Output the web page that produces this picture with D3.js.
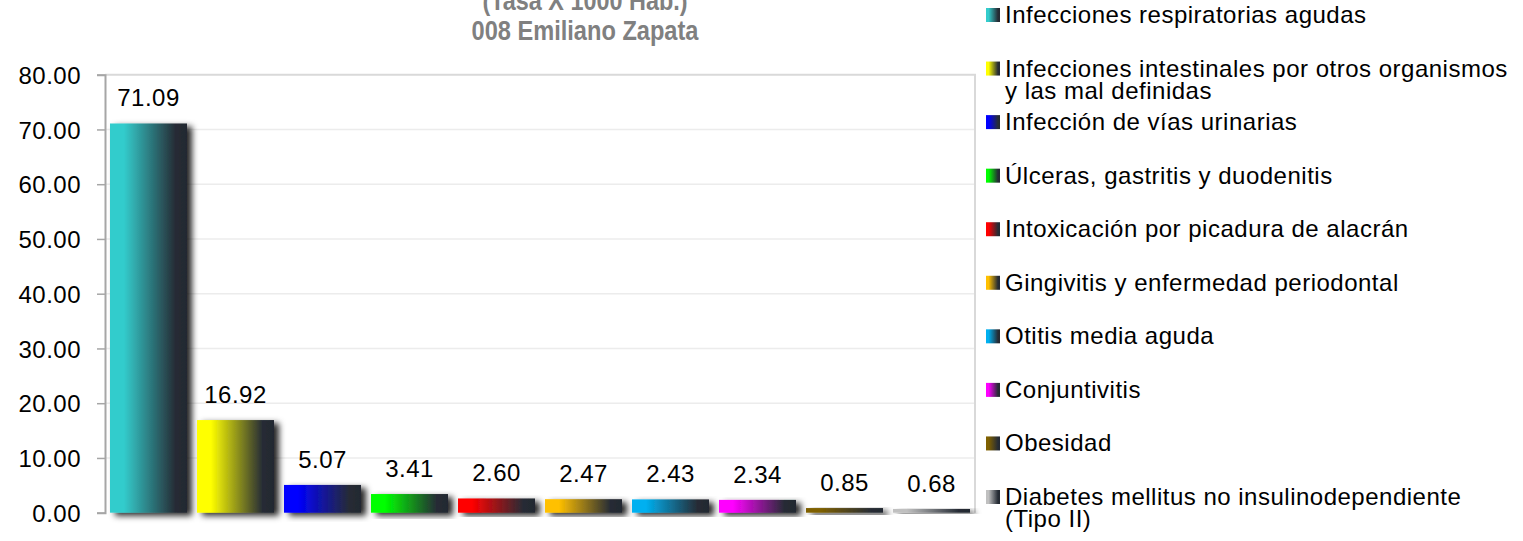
<!DOCTYPE html>
<html><head><meta charset="utf-8">
<script src="https://cdn.jsdelivr.net/npm/d3@7"></script>
<style>
body{margin:0;background:#fff;}
svg{display:block;font-family:"Liberation Sans",Arial,Helvetica,sans-serif;}
</style>
</head><body>
<svg id="c" width="1523" height="541"></svg>
<script>
const categories = [
  "Infecciones respiratorias agudas",
  "Infecciones intestinales por otros organismos y las mal definidas",
  "Infección de vías urinarias",
  "Úlceras, gastritis y duodenitis",
  "Intoxicación por picadura de alacrán",
  "Gingivitis y enfermedad periodontal",
  "Otitis media aguda",
  "Conjuntivitis",
  "Obesidad",
  "Diabetes mellitus no insulinodependiente (Tipo II)"
];
const legendLines = [
  ["Infecciones respiratorias agudas"],
  ["Infecciones intestinales por otros organismos", "y las mal definidas"],
  ["Infección de vías urinarias"],
  ["Úlceras, gastritis y duodenitis"],
  ["Intoxicación por picadura de alacrán"],
  ["Gingivitis y enfermedad periodontal"],
  ["Otitis media aguda"],
  ["Conjuntivitis"],
  ["Obesidad"],
  ["Diabetes mellitus no insulinodependiente", "(Tipo II)"]
];
const values = [71.09, 16.92, 5.07, 3.41, 2.60, 2.47, 2.43, 2.34, 0.85, 0.68];
const colors = ["#33CCCC","#FFFF00","#0000FF","#00FF00","#FF0000","#FFC000","#00B0F0","#FF00FF","#7F6000","#C0C0C0"];
const yTicks = [0, 10, 20, 30, 40, 50, 60, 70, 80];
const titleLines = ["(Tasa X 1000 Hab.)", "008 Emiliano Zapata"];

const svg = d3.select("#c");
const defs = svg.append("defs");

const plot = {left: 105, right: 975, top: 74.7, bottom: 512.7};
const x = d3.scaleBand().domain(categories).range([plot.left, plot.right]).paddingInner(0.115).paddingOuter(0.0575);
const y = d3.scaleLinear().domain([0, 80]).range([plot.bottom, plot.top]);

// gradients
colors.forEach((c, i) => {
  const g = defs.append("linearGradient").attr("id", "g" + i).attr("x1", "0").attr("x2", "1").attr("y1", "0").attr("y2", "0");
  g.append("stop").attr("offset", "0").attr("stop-color", c);
  g.append("stop").attr("offset", "0.18").attr("stop-color", c);
  g.append("stop").attr("offset", "0.85").attr("stop-color", "#262c35");
  g.append("stop").attr("offset", "1").attr("stop-color", "#232830");
});
const f = defs.append("filter").attr("id", "sh").attr("x", "-20%").attr("y", "-20%").attr("width", "150%").attr("height", "150%");
f.append("feDropShadow").attr("dx", 5).attr("dy", 3).attr("stdDeviation", 3).attr("flood-color", "#000").attr("flood-opacity", 0.85);
const f2 = defs.append("filter").attr("id", "sh2").attr("x", "-5%").attr("y", "-200%").attr("width", "110%").attr("height", "500%");
f2.append("feDropShadow").attr("dx", 2).attr("dy", 2).attr("stdDeviation", 1.5).attr("flood-color", "#000").attr("flood-opacity", 0.4);

// gridlines
svg.append("g").selectAll("line").data(yTicks.filter(d => d > 0 && d < 80)).join("line")
  .attr("x1", plot.left).attr("x2", plot.right).attr("y1", d => y(d)).attr("y2", d => y(d))
  .attr("stroke", "#ececec").attr("stroke-width", 1.5);
// frame top & right
svg.append("path")
  .attr("d", `M${plot.left},${y(80)}H${plot.right}V${plot.bottom}`)
  .attr("fill", "none").attr("stroke", "#d9d9d9").attr("stroke-width", 2);

// bars
svg.append("g").selectAll("rect").data(values).join("rect")
  .attr("x", (d, i) => x(categories[i]))
  .attr("width", x.bandwidth())
  .attr("y", d => y(d))
  .attr("height", d => y(0) - y(d))
  .attr("fill", (d, i) => `url(#g${i})`)
  .attr("filter", "url(#sh)");

// x axis baseline
svg.append("line").attr("x1", plot.left).attr("x2", plot.right + 2).attr("y1", y(0)).attr("y2", y(0))
  .attr("stroke", "#a6a6a6").attr("stroke-width", 2).attr("filter", "url(#sh2)");

// y axis
const ya = svg.append("g").attr("transform", `translate(${plot.left},0)`)
  .call(d3.axisLeft(y).tickValues(yTicks).tickFormat(d3.format(".2f")).tickSize(8).tickPadding(16));
ya.select(".domain").attr("stroke", "#a6a6a6").attr("stroke-width", 2);
ya.selectAll(".tick line").attr("stroke", "#a6a6a6").attr("stroke-width", 1.5);
ya.selectAll(".tick text").attr("font-size", 24).attr("fill", "#000").attr("dy", "0.36em")
  .attr("letter-spacing", "0.5px").attr("font-family", "Liberation Sans, Arial, sans-serif");

// value labels
svg.append("g").selectAll("text").data(values).join("text")
  .attr("x", (d, i) => x(categories[i]) + x.bandwidth() / 2)
  .attr("y", d => y(d) - 17)
  .attr("text-anchor", "middle").attr("font-size", 24).attr("letter-spacing", "0.5px").attr("fill", "#000")
  .text(d => d3.format(".2f")(d));

// title
const tg = svg.append("g").attr("font-weight", "bold").attr("fill", "#808080").attr("text-anchor", "middle");
tg.append("text").attr("x", 585).attr("y", 10).attr("font-size", 28)
  .attr("textLength", 205).attr("lengthAdjust", "spacingAndGlyphs").text(titleLines[0]);
tg.append("text").attr("x", 585).attr("y", 40).attr("font-size", 28)
  .attr("textLength", 227).attr("lengthAdjust", "spacingAndGlyphs").text(titleLines[1]);

// legend
const ly = d3.scalePoint().domain(categories).range([15, 497]);
const lg = svg.append("g").selectAll("g").data(categories).join("g")
  .attr("transform", d => `translate(986,${ly(d)})`);
lg.append("rect").attr("x", 0).attr("y", -7).attr("width", 14).attr("height", 14)
  .attr("fill", (d, i) => `url(#g${i})`);
lg.append("text").attr("font-size", 24).attr("letter-spacing", "0.5px").attr("fill", "#000")
  .selectAll("tspan").data((d, i) => legendLines[i]).join("tspan")
  .attr("x", 19).attr("y", (d, j) => 8 + j * 22).text(d => d);
</script>
</body></html>
